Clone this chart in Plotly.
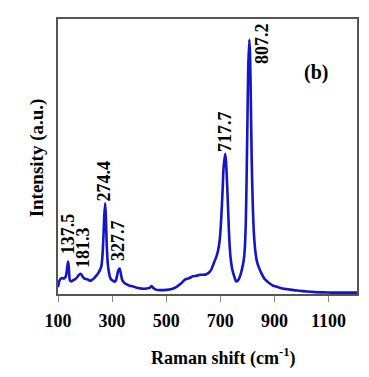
import plotly.graph_objects as go

# Raman spectrum (arbitrary intensity units)
shift = [100, 106, 114, 122, 128, 132, 135, 137.5, 140, 144, 150, 156, 162, 170, 176, 181.3, 186, 192,
         198, 205, 212, 218, 224, 232, 240, 248, 254, 260, 264, 268, 271, 274.4, 277, 280, 284, 288,
         292, 297, 303, 309, 314, 318, 322, 327.7, 332, 336, 340, 348, 356, 364, 375, 388, 401,
         415, 428, 438, 446, 452, 464, 480, 501, 520, 538, 552, 569, 580, 590, 599, 612, 625,
         636, 648, 660, 667, 675, 685, 692, 698, 703, 708, 712, 717.7, 721, 725, 729, 733, 738,
         743, 750, 758, 765, 771, 776, 781, 786, 790, 794, 797, 800, 803, 807.2, 810, 813, 816,
         820, 824, 830, 836, 843, 852, 860, 867, 880, 895, 910, 930, 950, 970, 990, 1020, 1050,
         1080, 1113, 1150, 1180, 1205]
intensity = [2.5, 5.0, 5.8, 5.6, 6.2, 8.0, 10.5, 11.8, 9.5, 5.0, 4.6, 5.0, 5.3, 6.0, 6.8, 7.3, 7.2, 6.2,
             5.6, 5.4, 5.2, 4.8, 5.0, 5.6, 6.5, 7.5, 8.5, 10.0, 13.5, 21.0, 28.5, 33.0, 28.0, 18.0, 11.0, 8.0,
             6.2, 5.2, 4.8, 4.5, 5.0, 6.5, 8.4, 9.3, 7.5, 5.5, 4.6, 3.8, 3.4, 3.0, 2.8, 2.4, 2.1,
             1.9, 2.0, 2.2, 2.9, 2.2, 1.5, 1.4, 1.5, 1.8, 2.6, 3.6, 5.2, 5.6, 6.0, 6.5, 6.6, 7.0,
             7.0, 7.2, 8.0, 9.0, 11.0, 13.5, 16.0, 20.0, 27.0, 37.0, 46.0, 51.0, 48.0, 40.0, 30.0, 20.0, 13.0,
             9.5, 6.8, 4.6, 4.9, 6.0, 7.5, 9.5, 12.0, 16.0, 26.0, 42.0, 62.0, 82.0, 92.5, 86.0, 68.0, 48.0,
             32.0, 22.0, 15.0, 11.5, 9.5, 7.5, 6.0, 5.1, 4.0, 3.0, 2.6, 2.0, 1.7, 1.4, 1.2, 0.9, 0.7,
             0.6, 0.5, 0.5, 0.5, 0.5]

peak_labels = ["137.5", "181.3", "274.4", "327.7", "717.7", "807.2"]
peak_x = [137.5, 181.3, 274.4, 327.7, 717.7, 807.2]
tick_vals = [100, 300, 500, 700, 900, 1100]

FONT = "Liberation Serif"

fig = go.Figure()
fig.add_trace(go.Scatter(x=shift, y=intensity, mode="lines",
                         line=dict(color="#1414C8", width=2.6, shape="spline", smoothing=0.6),
                         hoverinfo="skip", showlegend=False))

# label offsets (x shift in px, y position in data units) tuned to the picture
label_pos = {
    "137.5": (0.0, 21.8),
    "181.3": (3.0, 16.7),
    "274.4": (-1.0, 41.0),
    "327.7": (-1.0, 19.5),
    "717.7": (0.0, 59.0),
    "807.2": (12.0, 91.0),
}
for lab, px in zip(peak_labels, peak_x):
    dx, yv = label_pos[lab]
    fig.add_annotation(x=px, y=yv, text="<b>%s</b>" % lab, showarrow=False, textangle=-90,
                       xshift=dx, font=dict(family=FONT, size=18, color="black"))

fig.add_annotation(x=0.863, y=0.805, xref="paper", yref="paper", text="<b>(b)</b>",
                   xanchor="center", yanchor="middle",
                   showarrow=False, font=dict(family=FONT, size=20, color="black"))

# axis titles placed as annotations to match the reference offsets
fig.add_annotation(x=0.553, y=-0.229, xref="paper", yref="paper",
                   text="<b>Raman shift (cm<sup>-1</sup>)</b>", xanchor="center", yanchor="middle",
                   showarrow=False, font=dict(family=FONT, size=18, color="black"))
fig.add_annotation(x=-0.072, y=0.495, xref="paper", yref="paper", textangle=-90,
                   text="<b>Intensity (a.u.)</b>", xanchor="center", yanchor="middle",
                   showarrow=False, font=dict(family=FONT, size=19, color="black"))

fig.update_layout(
    width=369, height=377,
    margin=dict(l=58, r=12, t=19, b=83),
    paper_bgcolor="white", plot_bgcolor="white",
    font=dict(family=FONT, size=18, color="black"),
    xaxis=dict(range=[100, 1205], tickvals=tick_vals, automargin=False,
               ticktext=["<b>%d</b>" % v for v in tick_vals],
               ticks="outside", ticklen=6, tickcolor="#888", tickwidth=1,
               ticklabelstandoff=4,
               showline=True, linecolor="#555", linewidth=1.5, mirror=True,
               showgrid=False, zeroline=False),
    yaxis=dict(range=[0, 100], showticklabels=False, ticks="", automargin=False,
               showline=True, linecolor="#555", linewidth=1.5, mirror=True,
               showgrid=False, zeroline=False),
)

fig.write_html("out.html", config={"displayModeBar": False},
               post_script="document.body.style.margin='0';document.body.style.overflow='hidden';")
